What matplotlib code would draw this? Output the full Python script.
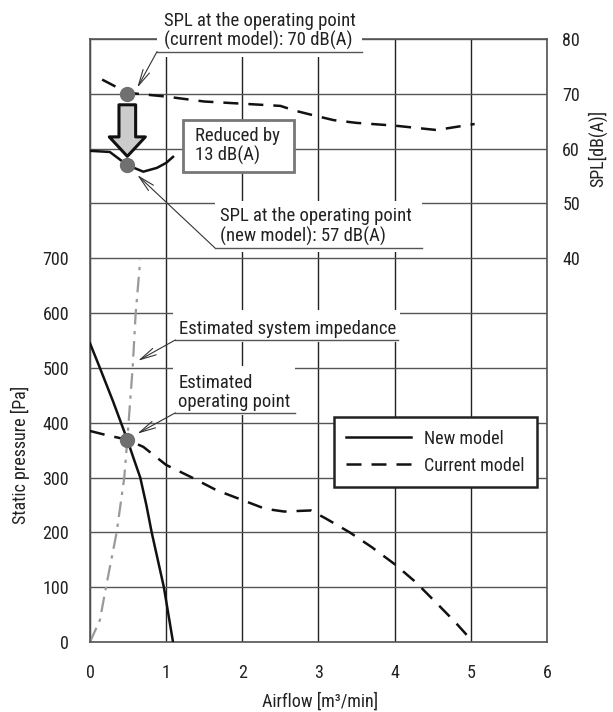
import matplotlib.pyplot as plt
from matplotlib.patches import Rectangle

plt.rcParams['font.family'] = ['Roboto Condensed', 'DejaVu Sans']
plt.rcParams['font.size'] = 13

# P-Q curves (static pressure, Pa)
airflow_new = [0, 0.13, 0.30, 0.49, 0.57, 0.66, 0.74, 0.81, 0.97, 1.09]
pressure_new = [545, 500, 440, 369, 336, 300, 250, 200, 100, 0]
airflow_cur = [0, 0.2, 0.49, 0.7, 1.0, 1.34, 1.66, 2.0, 2.3, 2.55, 2.9, 3.1,
               3.41, 3.7, 4.0, 4.27, 4.55, 4.79, 5.03]
pressure_cur = [385, 378, 369, 356, 323, 300, 277, 259, 243, 238, 240, 225,
                200, 173, 142, 110, 71, 37, 0]
# estimated system impedance
airflow_sys = [0, 0.13, 0.21, 0.35, 0.45, 0.49, 0.56, 0.60, 0.66]
pressure_sys = [0, 40, 100, 200, 300, 369, 500, 600, 697]
# SPL curves, dB(A)
airflow_spl_cur = [0.16, 0.49, 1.0, 1.5, 2.0, 2.5, 2.7, 2.9, 3.2, 3.5, 4.0, 4.55, 5.05]
spl_cur = [72.6, 70.2, 69.5, 68.6, 68.2, 67.8, 66.9, 66.2, 65.2, 64.7, 64.2, 63.4, 64.5]
airflow_spl_new = [0, 0.26, 0.49, 0.70, 0.88, 1.0, 1.09]
spl_new = [59.6, 59.4, 57.0, 55.8, 56.5, 57.4, 58.5]
# operating point
op_flow = 0.49
op_pressure = 369
op_spl_cur = 70
op_spl_new = 57

fig = plt.figure(figsize=(6.13, 7.12), dpi=100)
ax = fig.add_axes([0.1468, 0.0983, 0.7455, 0.8469])
ax2 = ax.twinx()

ax.set_xlim(0, 6)
ax.set_ylim(0, 1100)
ax2.set_ylim(-30, 80)

ax.set_xticks(range(7))
yt = list(range(0, 1101, 100))
ax.set_yticks(yt)
ax.set_yticklabels([str(v) if v <= 700 else '' for v in yt])
ax2.set_yticks([40, 50, 60, 70, 80])
ax.tick_params(axis='x', length=0, pad=16, labelcolor='#222222')
ax.tick_params(axis='y', length=0, pad=15, labelcolor='#222222')
ax2.tick_params(axis='y', length=0, pad=11, labelcolor='#222222')

ax.grid(axis='x', color='#222222', lw=1.0)
ax.grid(axis='y', color='#555555', lw=1.0)
ax.set_axisbelow(True)
for s in ax.spines.values():
    s.set_color('#555555')
    s.set_linewidth(1.2)
for s in ax2.spines.values():
    s.set_visible(False)

ax.set_xlabel('Airflow [m³/min]', color='#222222')
ax.xaxis.set_label_coords(0.503, -0.083)
ax.set_ylabel('Static pressure [Pa]', color='#222222')
ax.yaxis.set_label_coords(-0.131, 0.31)
ax2.set_ylabel('SPL[dB(A)]', color='#222222')
ax2.yaxis.set_label_coords(1.09, 0.819)

# curves
ax.plot(airflow_sys, pressure_sys, color='#999999', lw=1.6,
        linestyle=(0, (7, 3, 1.5, 3)), zorder=2)
ax.plot(airflow_new, pressure_new, color='#111111', lw=1.8, label='New model', zorder=3)
ax.plot(airflow_cur, pressure_cur, color='#111111', lw=1.8,
        linestyle=(0, (6, 4)), label='Current model', zorder=3)
ax2.plot(airflow_spl_new, spl_new, color='#111111', lw=1.8, zorder=3)
ax2.plot(airflow_spl_cur, spl_cur, color='#111111', lw=1.8,
         linestyle=(0, (6, 4)), zorder=3)

leg = ax.legend(loc='upper right', bbox_to_anchor=(0.978, 0.373), borderaxespad=0,
                fancybox=False, handlelength=3.6, handletextpad=0.7, frameon=True,
                fontsize=13, borderpad=0.7, labelspacing=0.5, framealpha=1)
leg.get_frame().set_edgecolor('#222222')
leg.get_frame().set_linewidth(1.8)
for t in leg.get_texts():
    t.set_color('#222222')

# markers
ax.plot([op_flow], [op_pressure], 'o', color='#707070', ms=10, zorder=6)
ax2.plot([op_flow, op_flow], [op_spl_cur, op_spl_new], 'o', color='#707070',
         ms=10, zorder=6)

# big arrow
ax2.annotate('', xy=(op_flow, 58.6), xytext=(op_flow, 68.0),
             arrowprops=dict(arrowstyle='simple,head_length=1.4,head_width=2.6,tail_width=1.2',
                             mutation_scale=10, fc='#cccccc', ec='#111111', lw=2.2,
                             shrinkA=0, shrinkB=0), zorder=5)

# annotations: (white box, text, underline, leader)
T = ax.transData
notes = [
    ((0.88, 1068, 2.69, 110), (0.97, 1080), 'SPL at the operating point\n(current model): 70 dB(A)',
     (0.88, 3.57, 1077), (0.62, 1011)),
    ((1.64, 712, 2.72, 93), (1.71, 723), 'SPL at the operating point\n(new model): 57 dB(A)',
     (1.64, 4.36, 719), (0.62, 852)),
    ((1.09, 547, 2.98, 59), (1.17, 555), 'Estimated system impedance',
     (1.12, 4.04, 551), (0.63, 513)),
    ((1.09, 414, 1.60, 90), (1.16, 422), 'Estimated\noperating point',
     (1.12, 2.69, 418), (0.62, 380)),
]
for box, tpos, txt, uline, tip in notes:
    ax2.add_patch(Rectangle((box[0], box[1]), box[2], box[3], transform=T,
                            fc='white', ec='none', clip_on=False, zorder=4))
    ax2.text(tpos[0], tpos[1], txt, transform=T, va='bottom', ha='left',
             linespacing=1.08, fontsize=13.5, color='#222222', zorder=5)
    ax2.plot([uline[0], uline[1]], [uline[2], uline[2]], transform=T,
             color='#555555', lw=1.0, clip_on=False, zorder=5)
    ax2.annotate('', xy=tip, xytext=(uline[0], uline[2]), xycoords=T, textcoords=T,
                 arrowprops=dict(arrowstyle='->,head_length=0.9,head_width=0.2',
                                 color='#333333', lw=0.8, shrinkA=0, shrinkB=0),
                 zorder=5)

# reduced-by box
ax2.add_patch(Rectangle((1.22, 858), 1.46, 95, transform=T, fc='white',
                        ec='#777777', lw=2.0, zorder=4))
ax2.text(1.38, 905, 'Reduced by\n13 dB(A)', transform=T, va='center', ha='left',
         linespacing=1.08, fontsize=13.5, color='#222222', zorder=5)

fig.savefig('out.png', dpi=100)
